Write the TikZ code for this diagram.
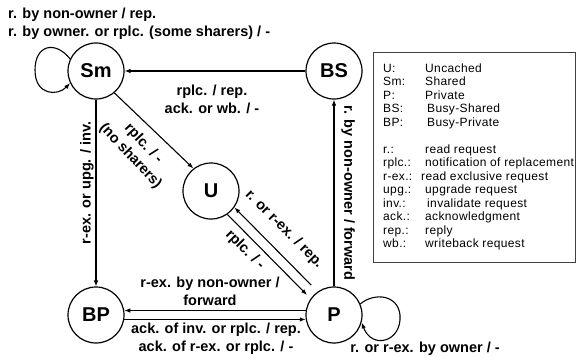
\documentclass[tikz,border=0pt]{standalone}
\usepackage{fontspec}
\setmainfont{Liberation Sans}
\newfontfamily\legfont[LetterSpace=3]{Liberation Sans}
\usetikzlibrary{arrows.meta}
\begin{document}
\begin{tikzpicture}[x=1pt,y=-1pt,
  state/.style={circle,draw,line width=1.2pt,minimum size=56pt,inner sep=0pt,
    font=\fontsize{20}{22}\selectfont\bfseries},
  edge/.style={line width=1.1pt,-{Latex[length=6pt,width=4.5pt]}},
  lbl/.style={font=\fontsize{14.5}{18}\selectfont\bfseries,inner sep=0pt,align=center},
  legkey/.style={font=\legfont\fontsize{12}{13}\selectfont,inner sep=0pt,anchor=base west},
  legbox/.style={draw=black!75,line width=0.8pt}]
\useasboundingbox (0,0) rectangle (577,357);

% states
\node[state] (Sm) at (96,71)  {Sm};
\node[state] (BS) at (334,71) {BS};
\node[state] (U)  at (211,191) {U};
\node[state] (BP) at (96,315) {BP};
\node[state] (P)  at (334,315) {P};

% transitions
\draw[edge] (BS) -- (Sm);
\draw[edge] (Sm) -- (BP);
\draw[edge] (P) -- (BS);
\draw[edge] (Sm.-50) -- (U.128);
\draw[edge,shorten <=9pt] (P.125) -- (U.-35);
\draw[edge,shorten >=5pt] (U.-55) -- (P.145);
\draw[edge] (P.171) -- (BP.9);
\draw[edge] (BP.-9) -- (P.-171);

% self loops
\draw[edge] (Sm.155) .. controls (55,40) and (35,45) .. (35,70)
  .. controls (35,96) and (58,96) .. (Sm.205);
\draw[edge] (P.23) .. controls (375,292) and (398,295) .. (400,315)
  .. controls (402,342) and (372,350) .. (P.-15);

% transition labels
\node[lbl,align=left,anchor=west] (lSm) at (8,24)
  {r. by non-owner / rep.\\r. by owner. or rplc. (some sharers) / -};
\node[lbl] (lBS) at (212,99) {rplc. / rep.\\ack. or wb. / -};
\node[lbl,rotate=90] (lSmBP) at (87,183) {r-ex. or upg. / inv.};
\node[lbl,rotate=-47] (lSmU) at (137,150) {rplc. / -\\(no sharers)};
\node[lbl,rotate=-45] (lPU) at (284,229) {r. or r-ex. / rep.};
\node[lbl,rotate=-45] (lUP) at (245,250) {rplc. / -};
\node[lbl,rotate=-90] (lPBS) at (348,193) {r. by non-owner / forward};
\node[lbl] (lPBP) at (210,291) {r-ex. by non-owner /\\forward};
\node[lbl] (lBPP) at (216,339) {ack. of inv. or rplc. / rep.\\ack. of r-ex. or rplc. / -};
\node[lbl] (lP) at (425,349) {r. or r-ex. by owner / -};

% legend
\draw[legbox] (373,52) rectangle (575,262);
\foreach \k/\v/\y/\vx [count=\i] in {
  U:/Uncached/72/425, Sm:/Shared/85.5/425, P:/Private/99/425,
  BS:/Busy-Shared/112.5/427, BP:/Busy-Private/126/427,
  r.:/read request/153/425, rplc.:/notification of replacement/166.5/425,
  r-ex.:/read exclusive request/180/421, upg.:/upgrade request/193.5/425,
  inv.:/invalidate request/207/427, ack.:/acknowledgment/220.5/425,
  rep.:/reply/234/425, wb.:/writeback request/247.5/425} {
  \node[legkey] (k\i) at (383,\y) {\k};
  \node[legkey] (v\i) at (\vx,\y) {\v};
}
\end{tikzpicture}
\end{document}
